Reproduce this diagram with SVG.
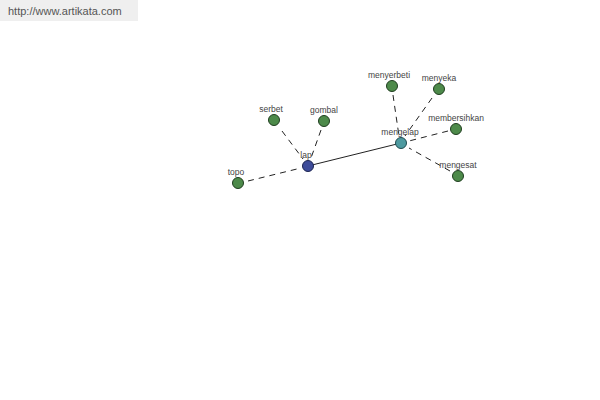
<svg xmlns="http://www.w3.org/2000/svg" width="600" height="400" viewBox="0 0 600 400">
<style>
text{font-family:"Liberation Sans",Arial,sans-serif;font-size:8.5px;fill:#444;text-anchor:middle}
.d{stroke:#222;stroke-width:1;stroke-dasharray:6,5;fill:none}
.s{stroke:#222;stroke-width:1;fill:none}
.g{fill:#4d8a4a;stroke:#1f3d1f;stroke-width:1}
.b{fill:#3e4c9a;stroke:#1c2450;stroke-width:1}
.t{fill:#4e9aa0;stroke:#1f4a4e;stroke-width:1}
</style>
<rect x="0" y="0" width="138" height="21" fill="#efefef"/>
<text x="8" y="15" style="text-anchor:start;font-size:11px;fill:#555">http://www.artikata.com</text>
<g id="connectors">
<line class="s" x1="308" y1="166" x2="401" y2="143"/>
<line class="d" x1="282" y1="131" x2="303" y2="159"/>
<line class="d" x1="321" y1="130" x2="311" y2="158"/>
<line class="d" x1="248" y1="181" x2="301" y2="168"/>
<line class="d" x1="393" y1="95" x2="399" y2="136"/>
<line class="d" x1="432" y1="98" x2="405" y2="136"/>
<line class="d" x1="448" y1="131" x2="409" y2="141"/>
<line class="d" x1="450" y1="171" x2="409" y2="148"/>
</g>
<g id="n-lap"><circle class="b" cx="308" cy="166" r="5.5"/><text x="306" y="158">lap</text></g>
<g id="n-mengelap"><circle class="t" cx="401" cy="143" r="5.5"/><text x="400" y="135">mengelap</text></g>
<g id="n-serbet"><circle class="g" cx="274" cy="120" r="5.5"/><text x="271" y="112">serbet</text></g>
<g id="n-gombal"><circle class="g" cx="324" cy="121" r="5.5"/><text x="324" y="113">gombal</text></g>
<g id="n-topo"><circle class="g" cx="238" cy="183" r="5.5"/><text x="236" y="175">topo</text></g>
<g id="n-menyerbeti"><circle class="g" cx="392" cy="86" r="5.5"/><text x="389" y="78">menyerbeti</text></g>
<g id="n-menyeka"><circle class="g" cx="439" cy="89" r="5.5"/><text x="439" y="81">menyeka</text></g>
<g id="n-membersihkan"><circle class="g" cx="456" cy="129" r="5.5"/><text x="456" y="121">membersihkan</text></g>
<g id="n-mengesat"><circle class="g" cx="458" cy="176" r="5.5"/><text x="458" y="168">mengesat</text></g>
</svg>
